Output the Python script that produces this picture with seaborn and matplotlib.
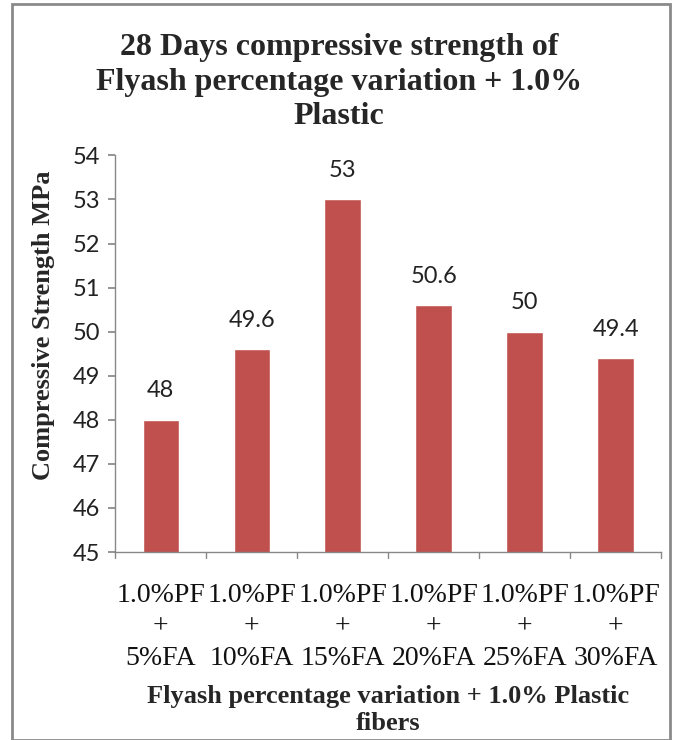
import numpy as np
import pandas as pd
import matplotlib
matplotlib.use("Agg")
import matplotlib.pyplot as plt
import seaborn as sns

# values
mixes = ["1.0%PF\n+\n5%FA", "1.0%PF\n+\n10%FA", "1.0%PF\n+\n15%FA",
         "1.0%PF\n+\n20%FA", "1.0%PF\n+\n25%FA", "1.0%PF\n+\n30%FA"]
strength = [48, 49.6, 53, 50.6, 50, 49.4]
yticks = [45, 46, 47, 48, 49, 50, 51, 52, 53, 54]

df = pd.DataFrame({"mix": mixes, "strength": strength})

sns.set_theme(style="white")
plt.rcParams["font.family"] = ["Liberation Serif", "DejaVu Serif"]

fig = plt.figure(figsize=(6.78, 7.40), dpi=100)
ax = fig.add_axes([0.170, 0.254, 0.805, 0.536])

sns.barplot(data=df, x="mix", y="strength", color="#C0504D", width=0.4,
            saturation=1, ax=ax)

ax.set_ylim(45, 54)
ax.set_yticks(yticks)
ax.set_yticklabels([str(v) for v in yticks], family="Lato", fontsize=17,
                   color="#222222")
ax.tick_params(axis="y", length=5, color="#888888", direction="out", left=True, pad=6)
ax.tick_params(axis="x", length=0, pad=22, labelsize=20, labelcolor="#111111")
for lab in ax.get_xticklabels():
    lab.set_linespacing(1.35)

# category separator ticks
for i in range(len(mixes) + 1):
    ax.plot([i - 0.5, i - 0.5], [45, 44.87], color="#888888", lw=1, clip_on=False)
ax.set_xlim(-0.5, len(mixes) - 0.5)

for s in ["top", "right"]:
    ax.spines[s].set_visible(False)
for s in ["left", "bottom"]:
    ax.spines[s].set_color("#888888")
    ax.spines[s].set_linewidth(1)

for i, v in enumerate(strength):
    ax.text(i, v + 0.42, f"{v:g}", ha="center", va="bottom", family="Lato",
            fontsize=17, color="#222222")

ax.set_ylabel("Compressive Strength MPa", fontsize=19, fontweight="bold")
ax.yaxis.set_label_coords(-0.11, 0.572)
ax.set_xlabel("Flyash percentage variation + 1.0% Plastic\nfibers", fontsize=19,
              fontweight="bold", labelpad=10, linespacing=1.25)

fig.suptitle("28 Days compressive strength of\nFlyash percentage variation + 1.0%\nPlastic",
             y=0.955, fontsize=23, fontweight="bold", linespacing=1.25)

fig.patches.append(plt.Rectangle((0.017, 0.0), 0.971, 0.994, transform=fig.transFigure,
                                 fill=False, edgecolor="#8a8a8a", lw=2))

fig.savefig("out.png", dpi=100, facecolor="white")
